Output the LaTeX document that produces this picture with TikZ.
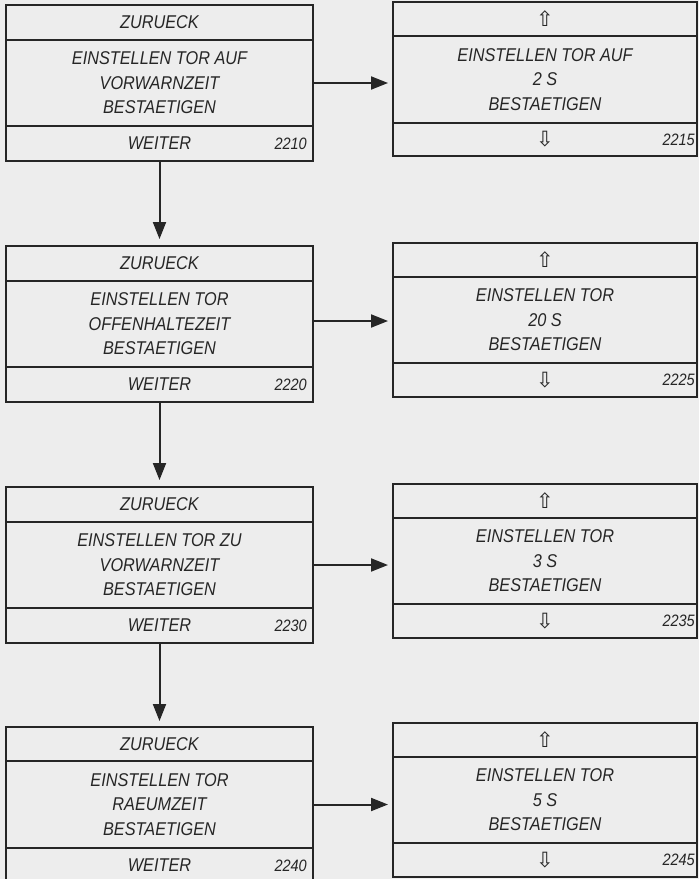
\documentclass[tikz,border=0pt]{standalone}
\usepackage{fontspec}
\setmainfont{Liberation Sans}
\newfontfamily\lcdfont{Liberation Sans}[FakeStretch=0.88]
\newfontfamily\arrowfont{DejaVu Sans}
\usetikzlibrary{arrows.meta,positioning}
\definecolor{panelgrey}{RGB}{237,237,237}
\definecolor{inkdark}{RGB}{38,38,38}
\tikzset{
  flow/.style={-{Triangle[length=17pt,width=13pt]},line width=2pt,draw=inkdark,shorten >=5pt},
  row/.style={draw=inkdark,line width=1.7pt,fill=panelgrey,outer sep=0pt,inner sep=0pt,
              text=inkdark,font=\lcdfont\itshape\fontsize{18.5}{24.5}\selectfont},
  menuhead/.style={row,minimum width=307pt,minimum height=35pt},
  menubody/.style={row,minimum width=307pt,minimum height=86pt,align=center},
  menufoot/.style={row,minimum width=307pt,minimum height=35pt},
  sethead/.style={row,minimum width=304pt,minimum height=34pt,font=\arrowfont\fontsize{21}{21}\selectfont},
  setbody/.style={row,minimum width=304pt,minimum height=86pt,align=center},
  setfoot/.style={sethead},
  code/.style={anchor=east,inner sep=0pt,text=inkdark,font=\lcdfont\itshape\fontsize{16.5}{16.5}\selectfont},
}
\begin{document}
\begin{tikzpicture}[x=1pt,y=-1pt]
  \fill[panelgrey] (0,0) rectangle (699,879);
  \path[use as bounding box] (0,0) rectangle (699,879);

  % menu screens, left column
  \node[menuhead,anchor=north west] (z1) at (6,5) {ZURUECK};
  \node[menubody,below=0pt of z1] (b1) {EINSTELLEN TOR AUF\\VORWARNZEIT\\BESTAETIGEN};
  \node[menufoot,below=0pt of b1] (f1) {WEITER};
  \node[code] (n2210) at ([xshift=-6pt]f1.east) {2210};

  \node[menuhead,anchor=north west] (z2) at (6,246) {ZURUECK};
  \node[menubody,below=0pt of z2] (b2) {EINSTELLEN TOR\\OFFENHALTEZEIT\\BESTAETIGEN};
  \node[menufoot,below=0pt of b2] (f2) {WEITER};
  \node[code] (n2220) at ([xshift=-6pt]f2.east) {2220};

  \node[menuhead,anchor=north west] (z3) at (6,487) {ZURUECK};
  \node[menubody,below=0pt of z3] (b3) {EINSTELLEN TOR ZU\\VORWARNZEIT\\BESTAETIGEN};
  \node[menufoot,below=0pt of b3] (f3) {WEITER};
  \node[code] (n2230) at ([xshift=-6pt]f3.east) {2230};

  \node[menuhead,anchor=north west,minimum height=34pt] (z4) at (6,727) {ZURUECK};
  \node[menubody,below=0pt of z4,minimum height=87pt] (b4) {EINSTELLEN TOR\\RAEUMZEIT\\BESTAETIGEN};
  \node[menufoot,below=0pt of b4] (f4) {WEITER};
  \node[code] (n2240) at ([xshift=-6pt]f4.east) {2240};

  % value screens, right column
  \node[sethead,anchor=north west] (u1) at (393,2) {⇧};
  \node[setbody,below=0pt of u1,minimum height=87pt] (s1) {EINSTELLEN TOR AUF\\2 S\\BESTAETIGEN};
  \node[setfoot,below=0pt of s1,minimum height=33pt] (d1) {⇩};
  \node[code] (n2215) at ([xshift=-2pt]d1.east) {2215};

  \node[sethead,anchor=north west] (u2) at (393,243) {⇧};
  \node[setbody,below=0pt of u2] (s2) {EINSTELLEN TOR\\20 S\\BESTAETIGEN};
  \node[setfoot,below=0pt of s2] (d2) {⇩};
  \node[code] (n2225) at ([xshift=-2pt]d2.east) {2225};

  \node[sethead,anchor=north west] (u3) at (393,484) {⇧};
  \node[setbody,below=0pt of u3] (s3) {EINSTELLEN TOR\\3 S\\BESTAETIGEN};
  \node[setfoot,below=0pt of s3] (d3) {⇩};
  \node[code] (n2235) at ([xshift=-2pt]d3.east) {2235};

  \node[sethead,anchor=north west] (u4) at (393,723) {⇧};
  \node[setbody,below=0pt of u4] (s4) {EINSTELLEN TOR\\5 S\\BESTAETIGEN};
  \node[setfoot,below=0pt of s4] (d4) {⇩};
  \node[code] (n2245) at ([xshift=-2pt]d4.east) {2245};

  % connectors
  \draw[flow,shorten >=7pt] (f1.south) -- (z2.north);
  \draw[flow,shorten >=7pt] (f2.south) -- (z3.north);
  \draw[flow,shorten >=6pt] (f3.south) -- (z4.north);
  \draw[flow] (b1.east) -- (b1.east -| s1.west);
  \draw[flow] ([yshift=3pt]b2.east) -- ([yshift=3pt]b2.east -| s2.west);
  \draw[flow] (b3.east) -- (b3.east -| s3.west);
  \draw[flow] (b4.east) -- (b4.east -| s4.west);
\end{tikzpicture}
\end{document}
